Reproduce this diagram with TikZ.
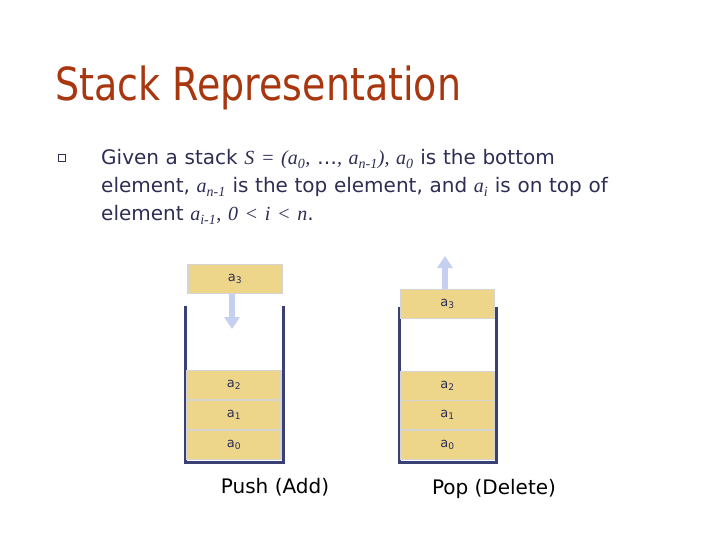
\documentclass[tikz,border=0pt]{standalone}
\usepackage{fontspec}
\setmainfont{DejaVu Sans}
\newfontfamily\mathser{Liberation Serif}
\usetikzlibrary{arrows.meta}
\definecolor{titlec}{HTML}{A8360F}
\definecolor{textc}{HTML}{2E2E55}
\definecolor{wallc}{HTML}{3B4074}
\definecolor{boxc}{HTML}{EDD68A}
\definecolor{boxl}{HTML}{D4D4D4}
\definecolor{arrc}{HTML}{C5D0F0}
\newcommand{\mi}[1]{{\mathser\itshape #1}}
\begin{document}
\begin{tikzpicture}[x=1pt,y=-1pt,
  elem/.style={draw=boxl,line width=1.5pt,fill=boxc,minimum width=94pt,minimum height=29pt,inner sep=0pt,font=\fontsize{13}{13}\selectfont,text=textc},
  wall/.style={draw=wallc,line width=3pt},
  bigarrow/.style={draw=arrc,line width=6pt,-{Triangle[width=15pt,length=12pt]}},
  lbl/.style={font=\fontsize{20}{20}\selectfont,text=black}]
\useasboundingbox (0,0) rectangle (720,540);
\node[anchor=base west,text=titlec,font=\fontsize{38}{38}\selectfont,inner sep=0pt,yscale=1.2] (title) at (55,101) {Stack Representation};
\node[draw=textc,line width=0.6pt,minimum size=7pt,inner sep=0pt] (bul) at (62,158) {};
\node[anchor=base west,text=textc,font=\fontsize{20}{28}\selectfont,inner sep=0pt,align=left,text width=600pt] (txt) at (101,165)
 {Given a stack \mi{S = (a\textsubscript{0}, }…\mi{, a\textsubscript{n-1}), a\textsubscript{0}} is the bottom\\
 element, \mi{a\textsubscript{n-1}} is the top element, and \mi{a\textsubscript{i}} is on top of\\
 element \mi{a\textsubscript{i-1}, 0 < i < n}.};
% left stack
\coordinate (l1) at (185,306); \coordinate (l2) at (185,462); \coordinate (l3) at (283,462); \coordinate (l4) at (283,306);
\draw[wall] (l1) -- (l2) -- (l3) -- (l4);
\node[elem] (la0) at (234,445) {a\textsubscript{0}};
\node[elem] (la1) at (234,415) {a\textsubscript{1}};
\node[elem] (la2) at (234,385) {a\textsubscript{2}};
\node[elem] (la3) at (235,279) {a\textsubscript{3}};
\coordinate (ltip) at (232,329);
\draw[bigarrow] (la3.south -| ltip) -- (ltip);
\node[lbl] (push) at (275,487) {Push (Add)};
% right stack
\coordinate (r1) at (399,307); \coordinate (r2) at (399,462); \coordinate (r3) at (496,462); \coordinate (r4) at (496,307);
\draw[wall] (r1) -- (r2) -- (r3) -- (r4);
\node[elem] (ra0) at (447.5,445) {a\textsubscript{0}};
\node[elem] (ra1) at (447.5,415) {a\textsubscript{1}};
\node[elem] (ra2) at (447.5,386) {a\textsubscript{2}};
\node[elem] (ra3) at (447.5,304) {a\textsubscript{3}};
\coordinate (rtip) at (445,256);
\draw[bigarrow] (ra3.north -| rtip) -- (rtip);
\node[lbl] (pop) at (494,489) {Pop (Delete)};
\end{tikzpicture}
\end{document}
